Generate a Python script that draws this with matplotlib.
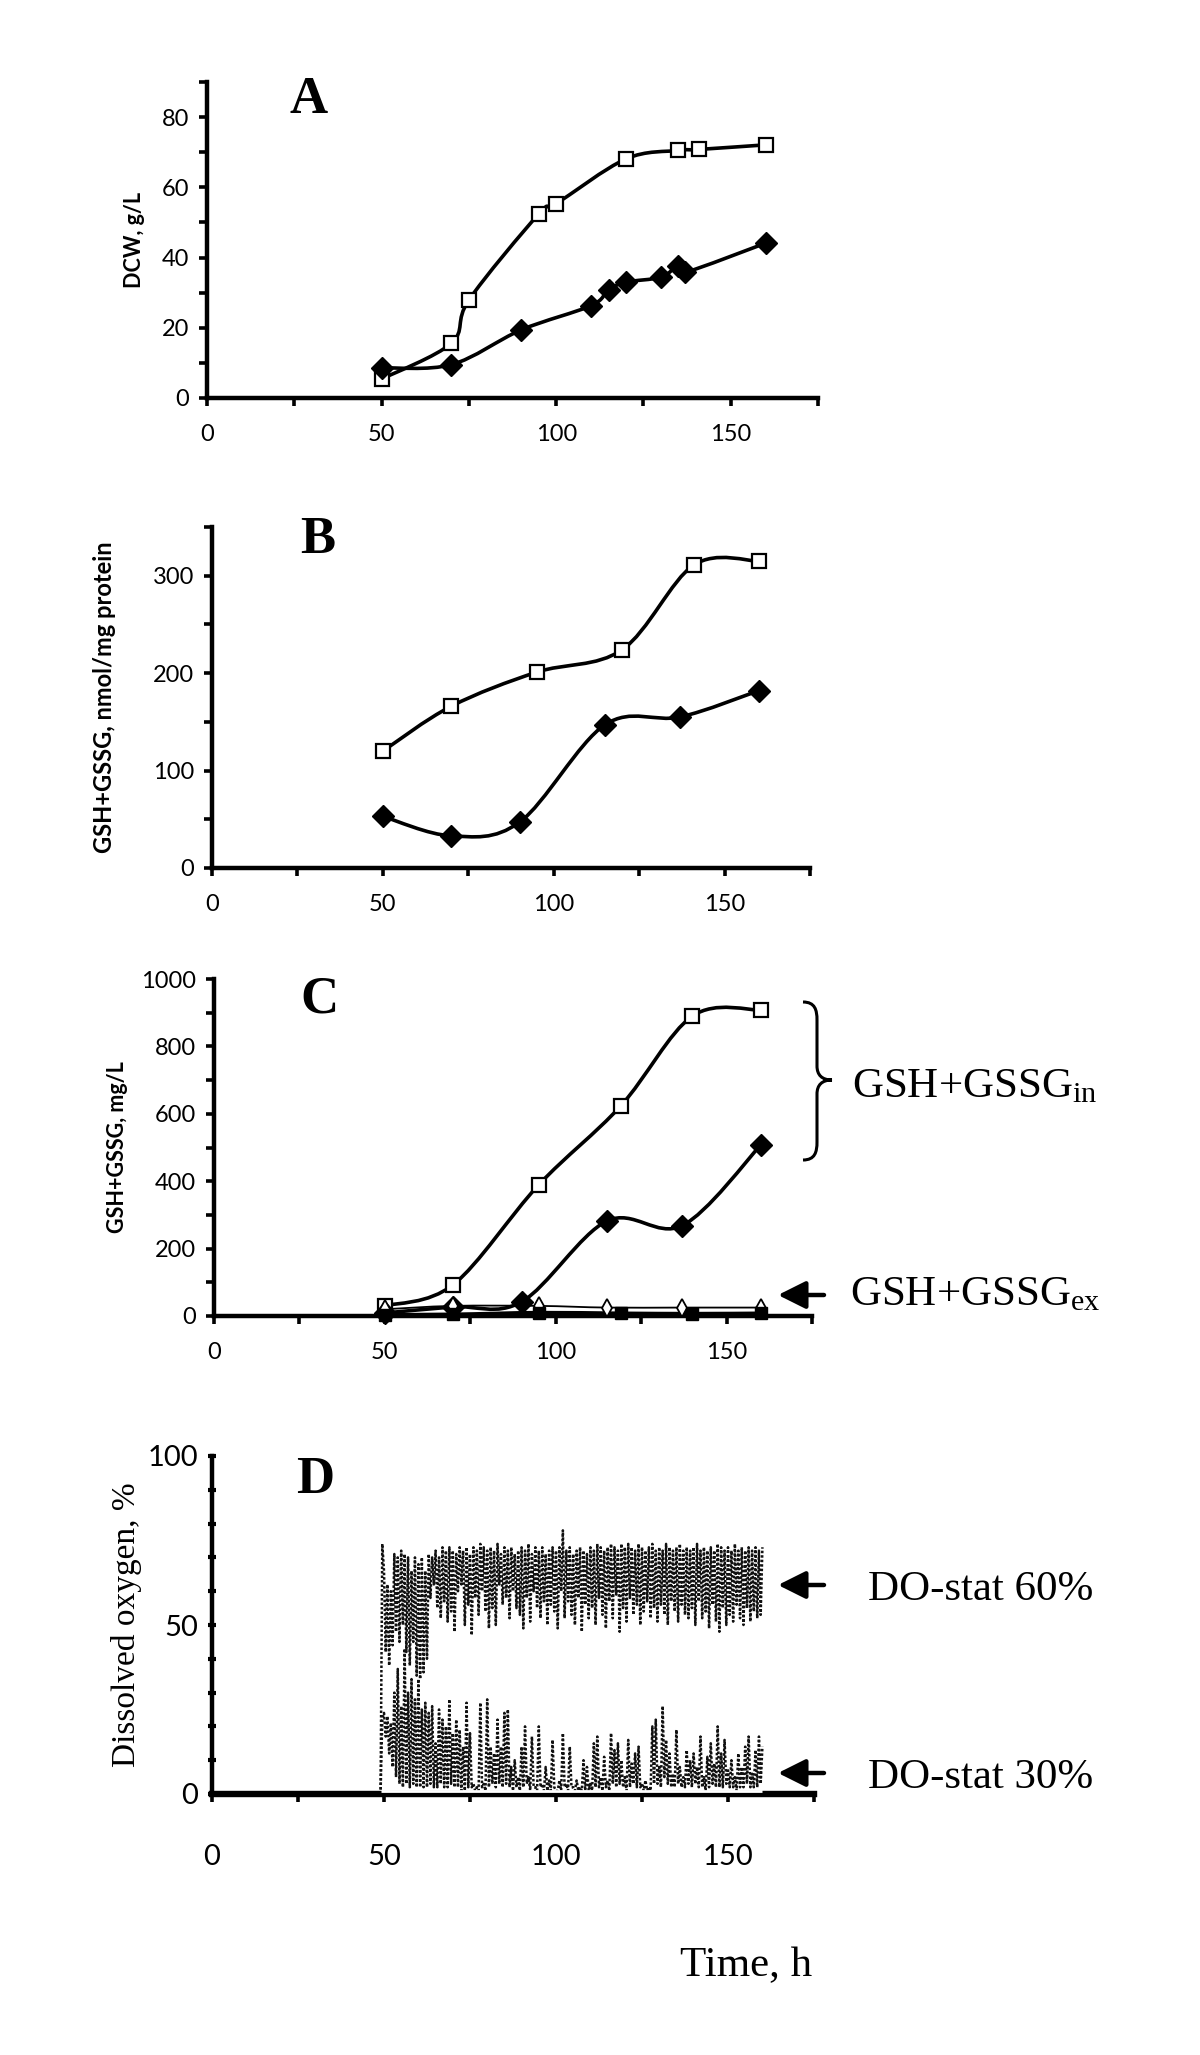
import numpy as np
import matplotlib
matplotlib.use('Agg')
import matplotlib.pyplot as plt
from matplotlib.path import Path
from matplotlib.patches import PathPatch
from matplotlib.ticker import FixedLocator

plt.rcParams['font.family'] = ['Lato', 'DejaVu Sans']
plt.rcParams['mathtext.fontset'] = 'custom'
plt.rcParams['mathtext.rm'] = 'Liberation Serif'
plt.rcParams['mathtext.it'] = 'Liberation Serif:italic'

W, H = 1200, 2055
SERIF = ['Liberation Serif', 'DejaVu Serif']

# ---- panel A: dry cell weight, g/L
a_sq_t = [50, 70, 75, 95, 100, 120, 135, 141, 160]
a_sq = [5.4, 15.6, 27.9, 52.4, 55.3, 68.1, 70.5, 70.8, 72.1]
a_di_t = [50, 70, 90, 110, 115, 120, 130, 135, 137, 160]
a_di = [8.6, 9.5, 19.4, 26.3, 30.8, 33.0, 34.4, 37.7, 35.8, 44.1]

# ---- panel B: GSH+GSSG, nmol/mg protein
b_sq_t = [50, 70, 95, 120, 141, 160]
b_sq = [120, 166, 201, 224, 311, 315]
b_di_t = [50, 70, 90, 115, 137, 160]
b_di = [53, 33, 47, 147, 155, 182]

# ---- panel C: GSH+GSSG, mg/L (in = intracellular, ex = extracellular)
c_sq_t = [50, 70, 95, 119, 140, 160]
c_sq = [30, 93, 389, 623, 890, 908]
c_di_t = [50, 70, 90, 115, 137, 160]
c_di = [9, 27, 42, 282, 268, 507]
c_odi_t = [50, 70, 95, 115, 137, 160]
c_odi = [20, 30, 30, 25, 25, 25]
c_fsq_t = [50, 70, 95, 119, 140, 160]
c_fsq = [4, 5, 10, 8, 7, 8]

# ---- panel D: dissolved oxygen log, %, sampled every 0.5 h from 49 h to 160 h
do_t = np.arange(49, 160.25, 0.5)
do60 = [0, 74, 66, 42, 62, 38, 60, 44, 71, 48, 70, 45, 72, 50, 71, 42, 70, 38, 66, 45,
        70, 35, 68, 34, 70, 36, 66, 40, 71, 58, 70, 62, 72, 55, 70, 52, 73, 57, 72, 51,
        73, 54, 72, 48, 71, 60, 73, 62, 72, 50, 73, 56, 71, 47, 73, 58, 72, 53, 74, 60,
        73, 54, 72, 49, 73, 55, 72, 50, 74, 62, 71, 56, 73, 58, 72, 52, 73, 60, 71, 55,
        72, 53, 73, 49, 72, 58, 74, 51, 71, 60, 73, 55, 72, 52, 73, 57, 71, 50, 72, 56,
        73, 54, 72, 49, 73, 60, 78, 52, 72, 57, 73, 53, 71, 50, 72, 58, 73, 48, 72, 56,
        71, 52, 73, 55, 72, 50, 74, 58, 73, 53, 72, 49, 73, 57, 74, 52, 73, 59, 72, 48,
        74, 55, 73, 51, 74, 58, 73, 53, 72, 56, 74, 50, 73, 54, 72, 57, 73, 52, 74, 55,
        72, 51, 73, 56, 72, 53, 74, 50, 73, 57, 72, 54, 73, 51, 74, 56, 72, 53, 73, 52,
        72, 55, 73, 50, 74, 57, 72, 52, 73, 54, 72, 49, 73, 56, 72, 51, 74, 48, 73, 55,
        72, 50, 73, 53, 72, 51, 74, 56, 72, 52, 73, 50, 72, 55, 73, 51, 72, 54, 73, 52,
        72, 53, 73]
do30 = [0, 22, 24, 17, 23, 12, 21, 8, 30, 5, 37, 3, 26, 2, 43, 3, 30, 2, 34, 3,
        28, 2, 34, 2, 25, 2, 27, 2, 24, 3, 26, 2, 15, 2, 25, 3, 22, 2, 20, 2,
        28, 3, 18, 2, 22, 2, 19, 1, 14, 1, 27, 2, 18, 2, 3, 1, 2, 1, 27, 2,
        3, 1, 28, 2, 14, 3, 12, 2, 22, 3, 14, 2, 24, 3, 25, 2, 8, 1, 10, 2,
        5, 1, 14, 2, 20, 3, 5, 1, 17, 2, 2, 1, 20, 2, 3, 1, 8, 1, 4, 1,
        16, 2, 1, 1, 4, 1, 18, 2, 3, 1, 14, 2, 2, 1, 4, 1, 2, 1, 10, 1,
        8, 1, 3, 1, 15, 2, 17, 2, 5, 1, 11, 2, 4, 1, 18, 3, 13, 2, 15, 3,
        10, 2, 5, 1, 16, 2, 9, 3, 12, 2, 14, 2, 3, 1, 4, 1, 2, 1, 20, 3,
        22, 3, 8, 2, 26, 5, 16, 3, 12, 2, 6, 2, 19, 3, 8, 2, 5, 2, 13, 3,
        10, 2, 12, 3, 8, 2, 17, 2, 5, 1, 11, 2, 15, 3, 9, 2, 20, 2, 12, 2,
        16, 3, 7, 2, 10, 2, 5, 1, 12, 2, 8, 2, 14, 3, 17, 2, 6, 2, 13, 2,
        17, 3, 14]


def rect(l, r, b, t):
    return [l / W, 1 - b / H, (r - l) / W, (b - t) / H]


def smooth(ax, x, y, lw=2.6, z=2):
    # Excel-like smoothed line (Catmull-Rom as cubic Bezier)
    p = np.column_stack([x, y]).astype(float)
    verts, codes = [p[0]], [Path.MOVETO]
    n = len(p)
    for i in range(n - 1):
        p0 = p[i - 1] if i > 0 else p[i]
        p3 = p[i + 2] if i + 2 < n else p[i + 1]
        verts += [p[i] + (p[i + 1] - p0) / 6, p[i + 1] - (p3 - p[i]) / 6, p[i + 1]]
        codes += [Path.CURVE4] * 3
    ax.add_patch(PathPatch(Path(verts, codes), fill=False, lw=lw, ec='k',
                           zorder=z, capstyle='round', joinstyle='round'))


def style(ax, ymaj, ymin, ytop, fs=17, xpad=13):
    ax.set_xlim(0, 175)
    ax.set_ylim(0, ytop)
    ax.spines['top'].set_visible(False)
    ax.spines['right'].set_visible(False)
    ax.spines['left'].set_linewidth(3.2)
    ax.spines['bottom'].set_linewidth(3.2)
    ax.xaxis.set_major_locator(FixedLocator([0, 50, 100, 150]))
    ax.xaxis.set_minor_locator(FixedLocator([25, 75, 125, 175]))
    ax.yaxis.set_major_locator(FixedLocator(ymaj))
    ax.yaxis.set_minor_locator(FixedLocator(ymin))
    ax.tick_params(axis='both', which='both', direction='out', length=6, width=2.6,
                   labelsize=fs)
    ax.tick_params(axis='x', which='major', pad=xpad)
    ax.tick_params(axis='y', which='major', pad=7)


def sq(ax, x, y, ms=10.5):
    ax.plot(x, y, ls='none', marker='s', ms=ms, mfc='white', mec='k', mew=1.6,
            zorder=4, clip_on=False)


def dia(ax, x, y, ms=11.5):
    ax.plot(x, y, ls='none', marker='D', ms=ms, mfc='k', mec='k', zorder=4,
            clip_on=False)


fig = plt.figure(figsize=(W / 100, H / 100), dpi=100)
ylab = dict(fontsize=15.5, fontweight='bold')

# A
ax = fig.add_axes(rect(207, 818, 398, 82))
style(ax, [0, 20, 40, 60, 80], [10, 30, 50, 70, 90], 90)
smooth(ax, a_sq_t, a_sq)
smooth(ax, a_di_t, a_di)
sq(ax, a_sq_t, a_sq)
dia(ax, a_di_t, a_di)
ax.set_ylabel('DCW, g/L', labelpad=12, **ylab)
ax.text(29, 85, 'A', family=SERIF, fontsize=38, fontweight='bold', ha='center', va='center')

# B
ax = fig.add_axes(rect(212, 810, 868, 527))
style(ax, [0, 100, 200, 300], [50, 150, 250, 350], 350)
smooth(ax, b_sq_t, b_sq)
smooth(ax, b_di_t, b_di)
sq(ax, b_sq_t, b_sq)
dia(ax, b_di_t, b_di)
ax.set_ylabel('GSH+GSSG, nmol/mg protein', labelpad=26, fontsize=17, fontweight='bold')
ax.text(31, 337, 'B', family=SERIF, fontsize=38, fontweight='bold', ha='center', va='center')

# C
ax = fig.add_axes(rect(214, 812, 1316, 979))
style(ax, [0, 200, 400, 600, 800, 1000], [100, 300, 500, 700, 900], 1000)
smooth(ax, c_sq_t, c_sq)
smooth(ax, c_di_t, c_di)
smooth(ax, c_odi_t, c_odi, lw=1.3)
smooth(ax, c_fsq_t, c_fsq, lw=2.6)
sq(ax, c_sq_t, c_sq)
dia(ax, c_di_t, c_di)
ax.plot(c_odi_t, c_odi, ls='none', marker='d', ms=9, mfc='white', mec='k', mew=1.3,
        zorder=5, clip_on=False)
ax.plot(c_fsq_t, c_fsq, ls='none', marker='s', ms=8, mfc='k', mec='k', zorder=5,
        clip_on=False)
ax.set_ylabel('GSH+GSSG, mg/L', labelpad=9, **ylab)
ax.text(31, 938, 'C', family=SERIF, fontsize=38, fontweight='bold', ha='center', va='center')

# D
ax = fig.add_axes(rect(212, 814, 1794, 1456))
style(ax, [0, 50, 100], [10, 20, 30, 40, 60, 70, 80, 90], 100, fs=21, xpad=30)
ax.spines['bottom'].set_linewidth(4.6)
ax.tick_params(axis='y', which='both', direction='inout', length=6, width=3)
ax.plot(do_t, do60, ls=(0, (1, 0.8)), lw=1.8, color='#111111')
ax.plot(do_t, do30, ls=(0, (1, 0.8)), lw=1.8, color='#111111')
ax.hlines(0.9, do_t[0], do_t[-1], color='white', lw=2.0, zorder=3, clip_on=False)
ax.set_ylabel('Dissolved oxygen, %', family=SERIF, fontsize=24, labelpad=4)
ax.text(30, 93, 'D', family=SERIF, fontsize=38, fontweight='bold', ha='center', va='center')

# overlay in pixel coordinates for brace, arrows and side labels
ov = fig.add_axes([0, 0, 1, 1])
ov.set_xlim(0, W)
ov.set_ylim(H, 0)
ov.axis('off')
ov.patch.set_alpha(0)

brace = Path([(803, 1002), (815, 1002), (817, 1010), (817, 1020), (817, 1066),
              (817, 1075), (822, 1080), (832, 1080), (822, 1080), (817, 1085),
              (817, 1094), (817, 1142), (817, 1152), (815, 1160), (803, 1160)],
             [Path.MOVETO, Path.CURVE4, Path.CURVE4, Path.CURVE4, Path.LINETO,
              Path.CURVE4, Path.CURVE4, Path.CURVE4, Path.CURVE4, Path.CURVE4,
              Path.CURVE4, Path.LINETO, Path.CURVE4, Path.CURVE4, Path.CURVE4])
ov.add_patch(PathPatch(brace, fill=False, lw=2.2, ec='k'))

arrow = dict(arrowstyle='-|>,head_length=0.7,head_width=0.35', lw=3.2, color='k',
             mutation_scale=24, shrinkA=0, shrinkB=0)
for yy in (1295, 1585, 1773):
    ov.annotate('', xy=(778, yy), xytext=(824, yy), arrowprops=arrow)

side = dict(family=SERIF, fontsize=31, va='baseline', ha='left')
ov.text(852, 1097, 'GSH+GSSG$_{\\mathrm{in}}$', **side)
ov.text(850, 1305, 'GSH+GSSG$_{\\mathrm{ex}}$', **side)
ov.text(868, 1600, 'DO-stat 60%', **side)
ov.text(868, 1788, 'DO-stat 30%', **side)
ov.text(680, 1976, 'Time, h', **side)

fig.savefig('out.png', dpi=100)
